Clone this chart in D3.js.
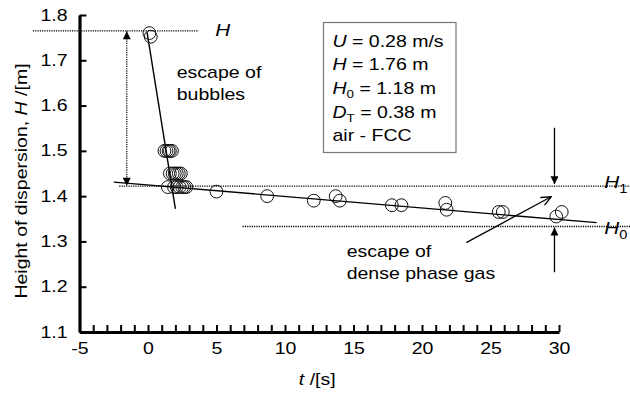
<!DOCTYPE html>
<html>
<head>
<meta charset="utf-8">
<script src="https://cdn.jsdelivr.net/npm/d3@7"></script>
<style>
  html, body { margin: 0; padding: 0; background: #fff; }
  svg { display: block; font-family: "Liberation Sans", Arial, Helvetica, sans-serif; }
</style>
</head>
<body>
<svg id="chart" width="630" height="394"></svg>
<script>
// Bed collapse: height of dispersion versus time
const timeTicks = d3.range(-5, 31, 1);
const timeLabels = [-5, 0, 5, 10, 15, 20, 25, 30];
const heightTicks = [1.1, 1.2, 1.3, 1.4, 1.5, 1.6, 1.7, 1.8];

// measured points
const tValues = [0.1, 0.2,
  1.2, 1.35, 1.5, 1.6, 1.75,
  1.6, 1.8, 1.95, 2.1, 2.25, 2.4,
  1.45, 1.9, 2.1, 2.3, 2.5, 2.65, 2.8,
  5.0, 8.7, 12.1, 13.7, 14.0, 17.8, 18.5, 21.7, 21.8, 25.6, 25.9, 29.8, 30.2];
const hValues = [1.760, 1.752,
  1.50, 1.50, 1.50, 1.50, 1.50,
  1.45, 1.45, 1.45, 1.45, 1.45, 1.45,
  1.42, 1.42, 1.42, 1.42, 1.42, 1.42, 1.42,
  1.41, 1.40, 1.39, 1.40, 1.39, 1.38, 1.38, 1.385, 1.37, 1.365, 1.365, 1.355, 1.365];

// fitted lines: bubble escape and dense phase gas escape
const bubbleFitT = [-0.07, 2.0];
const bubbleFitH = [1.762, 1.372];
const denseFitT = [-2.5, 32.75];
const denseFitH = [1.431, 1.3415];

// characteristic levels
const levelNames = ["H", "H1", "H0"];
const levelValues = [1.765, 1.422, 1.333];
const levelStartT = [-8.4, -2.1, 6.9];
const levelEndT = [3.7, 36.0, 36.4];

// operating conditions
const condSymbols = ["U", "H", "H", "D", ""];
const condSubs = ["", "", "0", "T", ""];
const condTexts = [" = 0.28 m/s", " = 1.76 m", " = 1.18 m", " = 0.38 m", "air - FCC"];

const svg = d3.select("#chart");
const SX = 1.22; // wide letterforms

const x = d3.scaleLinear().domain([-5, 30]).range([79.5, 559]);
const y = d3.scaleLinear().domain([1.1, 1.8]).range([332, 15]);

function wide(sel, px, py) {
  return sel.attr("transform", `translate(${px},${py}) scale(${SX},1)`);
}

// arrowhead markers
const defs = svg.append("defs");
defs.append("marker")
  .attr("id", "tri").attr("viewBox", "0 0 10 10")
  .attr("refX", 10).attr("refY", 5)
  .attr("markerWidth", 10).attr("markerHeight", 8)
  .attr("markerUnits", "userSpaceOnUse")
  .attr("orient", "auto-start-reverse")
  .append("path").attr("d", "M0,0 L10,5 L0,10 Z").attr("fill", "#000");
defs.append("marker")
  .attr("id", "open").attr("viewBox", "0 0 10 10")
  .attr("refX", 10).attr("refY", 5)
  .attr("markerWidth", 11).attr("markerHeight", 10)
  .attr("markerUnits", "userSpaceOnUse")
  .attr("orient", "auto")
  .append("path").attr("d", "M0,0.5 L10,5 L0,9.5").attr("fill", "none")
  .attr("stroke", "#000").attr("stroke-width", 1.3);

// dotted reference levels
levelValues.forEach((v, i) => {
  svg.append("line")
    .attr("x1", x(levelStartT[i])).attr("x2", x(levelEndT[i]))
    .attr("y1", y(v)).attr("y2", y(v))
    .attr("stroke", "#000").attr("stroke-width", 1.3)
    .attr("stroke-dasharray", "1.2,1.1");
});

// level labels
const levelLabelT = [4.9, 33.3, 33.3];
const levelLabelDy = [5.5, 1.5, 8];
levelNames.forEach((n, i) => {
  const t = wide(svg.append("text"), x(levelLabelT[i]), y(levelValues[i]) + levelLabelDy[i])
    .attr("font-size", 17).attr("fill", "#000");
  t.append("tspan").attr("font-style", "italic").text(n[0]);
  if (n.length > 1) {
    t.append("tspan").attr("font-size", 12).attr("dy", 5).text(n.slice(1));
  }
});

// fitted lines
const line = d3.line().x(d => x(d[0])).y(d => y(d[1]));
svg.append("path")
  .attr("d", line(bubbleFitT.map((t, i) => [t, bubbleFitH[i]])))
  .attr("fill", "none").attr("stroke", "#000").attr("stroke-width", 1.4);
svg.append("path")
  .attr("d", line(denseFitT.map((t, i) => [t, denseFitH[i]])))
  .attr("fill", "none").attr("stroke", "#000").attr("stroke-width", 1.4);

// measured points
svg.append("g").selectAll("circle")
  .data(tValues.map((t, i) => [t, hValues[i]]))
  .join("circle")
  .attr("cx", d => x(d[0])).attr("cy", d => y(d[1]))
  .attr("r", 6.4)
  .attr("fill", "none").attr("stroke", "#111").attr("stroke-width", 1);

// dotted double arrow between H and H1
svg.append("line")
  .attr("x1", x(-1.55)).attr("x2", x(-1.55))
  .attr("y1", y(levelValues[0]) + 0.5).attr("y2", y(levelValues[1]) - 0.5)
  .attr("stroke", "#000").attr("stroke-width", 1.2)
  .attr("stroke-dasharray", "1.2,1.1")
  .attr("marker-start", "url(#tri)").attr("marker-end", "url(#tri)");

// arrows marking H1 and H0 on the right
svg.append("line")
  .attr("x1", x(29.67)).attr("x2", x(29.67))
  .attr("y1", y(1.551)).attr("y2", y(levelValues[1]) - 2)
  .attr("stroke", "#000").attr("stroke-width", 1.3)
  .attr("marker-end", "url(#tri)");
svg.append("line")
  .attr("x1", x(29.67)).attr("x2", x(29.67))
  .attr("y1", y(1.232)).attr("y2", y(levelValues[2]) + 1)
  .attr("stroke", "#000").attr("stroke-width", 1.3)
  .attr("marker-end", "url(#tri)");

// arrow toward the dense phase fit
svg.append("line")
  .attr("x1", x(23.23)).attr("y1", y(1.2975))
  .attr("x2", x(29.43)).attr("y2", y(1.3987))
  .attr("stroke", "#000").attr("stroke-width", 1.3)
  .attr("marker-end", "url(#open)");

// annotations
function multiline(lines, t0, h0, lh) {
  lines.forEach((s, i) => {
    wide(svg.append("text"), x(t0), y(h0) + i * lh)
      .attr("font-size", 16).attr("fill", "#000").text(s);
  });
}
multiline(["escape of", "bubbles"], 2.1, 1.661, 22);
multiline(["escape of", "dense phase gas"], 14.5, 1.266, 22.3);

// conditions box
const boxX = 323.5, boxY = 22.5, boxW = 132.5, boxH = 130;
svg.append("rect")
  .attr("x", boxX).attr("y", boxY).attr("width", boxW).attr("height", boxH)
  .attr("fill", "#fff").attr("stroke", "#777").attr("stroke-width", 1.2);
condTexts.forEach((s, i) => {
  const t = wide(svg.append("text"), 332.5, 46.7 + i * 23.6)
    .attr("font-size", 16).attr("fill", "#000");
  if (condSymbols[i]) t.append("tspan").attr("font-style", "italic").text(condSymbols[i]);
  if (condSubs[i]) {
    t.append("tspan").attr("font-size", 11).attr("dy", 4).text(condSubs[i]);
    t.append("tspan").attr("dy", -4).text(s);
  } else {
    t.append("tspan").text(s);
  }
});

// axes
const xAxis = d3.axisBottom(x)
  .tickValues(timeTicks)
  .tickSizeInner(-7).tickSizeOuter(0).tickPadding(11)
  .tickFormat(d => timeLabels.includes(d) ? String(d) : "");
const gx = svg.append("g").attr("transform", `translate(0,${y(1.1)})`).call(xAxis);

const yAxis = d3.axisLeft(y)
  .tickValues(heightTicks)
  .tickSizeInner(-7).tickSizeOuter(0).tickPadding(12)
  .tickFormat(d3.format(".1f"));
const gy = svg.append("g").attr("transform", `translate(${x(-5)},0)`).call(yAxis);

[gx, gy].forEach(g => {
  g.select(".domain").attr("stroke", "#000").attr("stroke-width", 3.2);
  g.selectAll(".tick line").attr("stroke", "#000").attr("stroke-width", 2);
  g.selectAll(".tick text")
    .attr("font-size", 16).attr("fill", "#000")
    .attr("font-family", "Liberation Sans, Arial, sans-serif");
});
gx.selectAll(".tick text").each(function () {
  const el = d3.select(this);
  const yy = +el.attr("y");
  el.attr("y", null).attr("transform", `translate(0,${yy}) scale(${SX},1)`);
});
gy.selectAll(".tick text").each(function () {
  const el = d3.select(this);
  const xx = +el.attr("x");
  el.attr("x", null).attr("transform", `translate(${xx},0) scale(${SX},1)`);
});

// axis titles
const xt = svg.append("text")
  .attr("transform", `translate(${(x(-5) + x(30)) / 2 - 2},385) scale(${SX},1)`)
  .attr("text-anchor", "middle").attr("font-size", 16).attr("fill", "#000");
xt.append("tspan").attr("font-style", "italic").text("t");
xt.append("tspan").text(" /[s]");

const yt = svg.append("text")
  .attr("transform", `translate(27,181) rotate(-90) scale(${SX},1)`)
  .attr("text-anchor", "middle").attr("font-size", 16).attr("fill", "#000");
yt.append("tspan").text("Height of dispersion, ");
yt.append("tspan").attr("font-style", "italic").text("H");
yt.append("tspan").text(" /[m]");
</script>
</body>
</html>
